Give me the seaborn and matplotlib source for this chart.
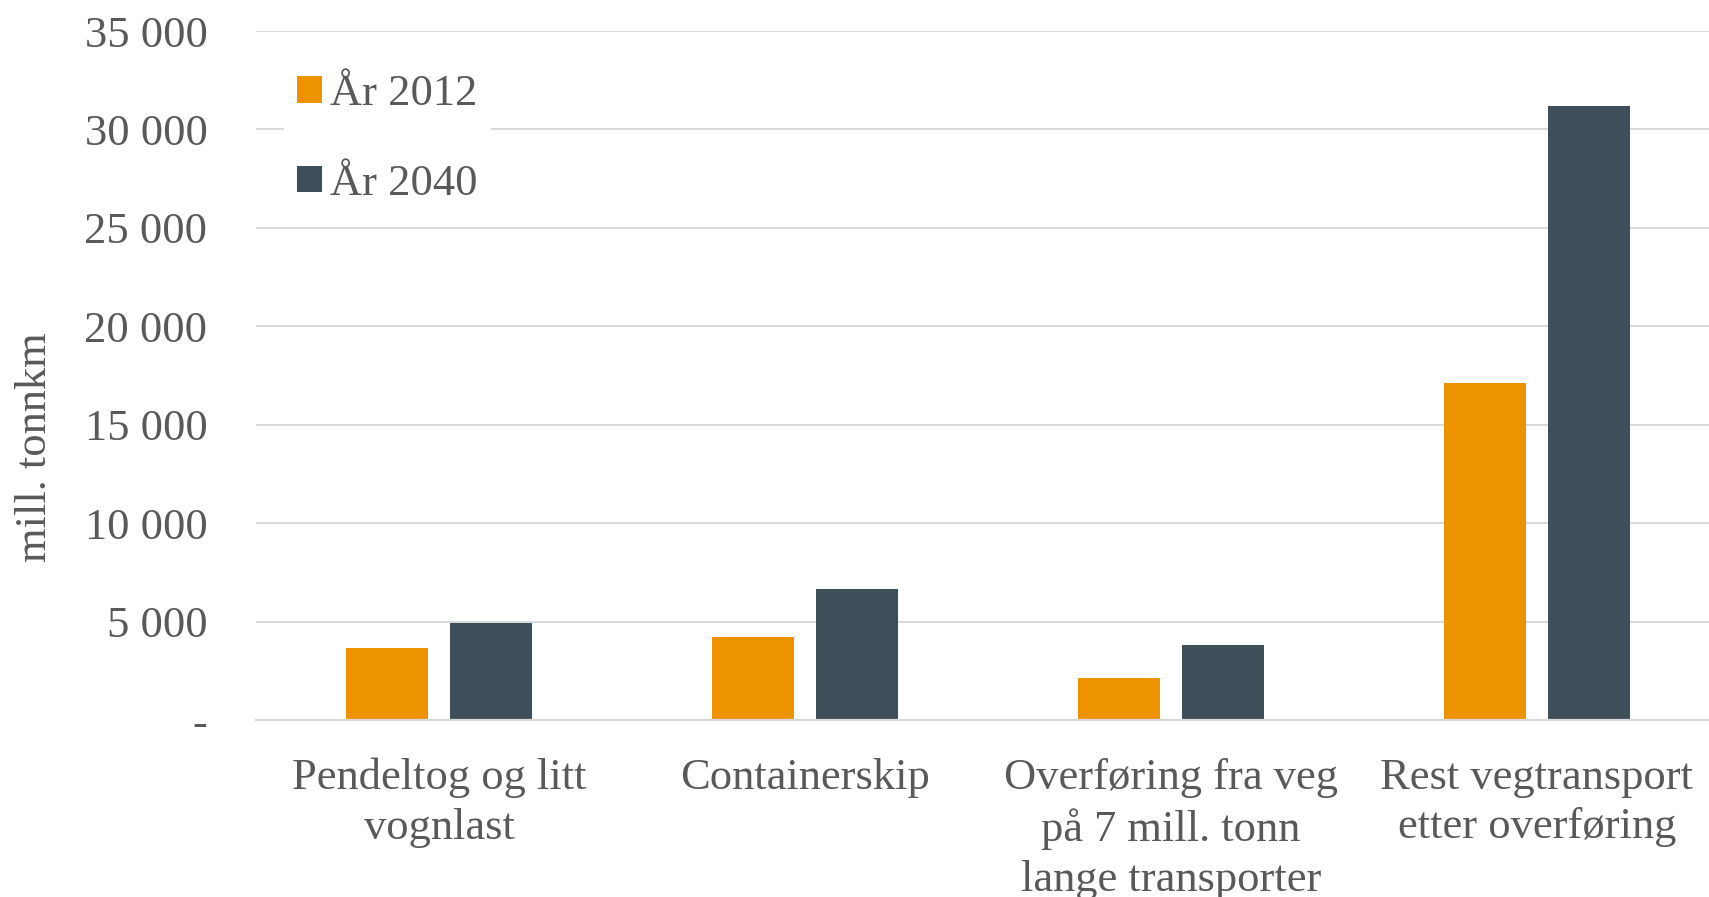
import matplotlib
matplotlib.use("Agg")
import matplotlib.pyplot as plt
from matplotlib.patches import Patch
import seaborn as sns
import pandas as pd

# ---- data ----
categories = [
    "Pendeltog og litt\nvognlast",
    "Containerskip",
    "Overføring fra veg\npå 7 mill. tonn\nlange transporter",
    "Rest vegtransport\netter overføring",
]
series_names = ["År 2012", "År 2040"]
values_2012 = [3680, 4200, 2120, 17110]
values_2040 = [4920, 6660, 3800, 31180]
y_ticks = [0, 5000, 10000, 15000, 20000, 25000, 30000, 35000]
y_tick_labels = ["-", "5 000", "10 000", "15 000", "20 000", "25 000", "30 000", "35 000"]
y_label = "mill. tonnkm"
colors = ["#ED9300", "#3E4F5A"]

df = pd.DataFrame({
    "kategori": categories * 2,
    "verdi": values_2012 + values_2040,
    "serie": [series_names[0]] * 4 + [series_names[1]] * 4,
})

sns.set_style("white")
plt.rcParams["font.family"] = ["Liberation Serif", "DejaVu Serif"]
text_color = "#595959"
fs = 32

fig = plt.figure(figsize=(17.09, 8.97), dpi=100)
ax = fig.add_axes([0.1498, 0.1973, 0.8566, 0.7681])

sns.barplot(data=df, x="kategori", y="verdi", hue="serie", order=categories,
            hue_order=series_names, palette=colors, saturation=1,
            width=0.57, gap=0.21, linewidth=0, legend=False, ax=ax, errorbar=None)

ax.set_ylim(0, 35000)
ax.set_xlim(-0.5, len(categories) - 0.5)
ax.set_yticks(y_ticks)
ax.set_yticklabels(y_tick_labels)
ax.yaxis.grid(True, color="#d9d9d9", linewidth=1.4)
ax.xaxis.grid(False)
ax.set_axisbelow(True)
for s in ["top", "right", "left"]:
    ax.spines[s].set_visible(False)
ax.spines["bottom"].set_color("#d9d9d9")
ax.spines["bottom"].set_linewidth(1.6)

ax.tick_params(axis="y", length=0, pad=35, labelsize=fs, labelcolor=text_color)
ax.tick_params(axis="x", length=0, pad=27, labelsize=fs, labelcolor=text_color)
for lbl in ax.get_xticklabels():
    lbl.set_linespacing(1.32)
    lbl.set_horizontalalignment("center")

ax.set_xlabel("")
ax.set_ylabel(y_label, fontsize=fs, color=text_color)
ax.yaxis.set_label_coords(-0.137, 0.396)

handles = [Patch(facecolor=c, edgecolor="none") for c in colors]
leg = ax.legend(handles, series_names, loc="upper left",
                bbox_to_anchor=(0.019, 0.957), fontsize=fs,
                frameon=True, facecolor="white", edgecolor="none", framealpha=1,
                handlelength=0.55, handleheight=0.55, handletextpad=0.2,
                labelspacing=1.12, borderpad=0.3, borderaxespad=0, fancybox=False)
for t in leg.get_texts():
    t.set_color(text_color)

fig.savefig("out.png", dpi=100, facecolor="white")
